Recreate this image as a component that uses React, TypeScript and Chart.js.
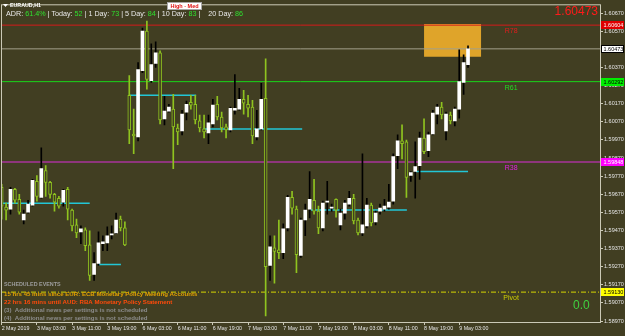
import React, { useEffect, useRef } from "react";
import { Chart, registerables } from "chart.js";

Chart.register(...registerables);

// ---------------- data ----------------
const symbolTitle = "EURAUD,H1";

const timeLabels = [
  "2 May 2019", "3 May 03:00", "3 May 11:00", "3 May 19:00", "6 May 03:00", "6 May 11:00",
  "6 May 19:00", "7 May 03:00", "7 May 11:00", "7 May 19:00", "8 May 03:00", "8 May 11:00",
  "8 May 19:00", "9 May 03:00",
];
const timeTickIndex = [0, 8, 16, 24, 32, 40, 48, 56, 64, 72, 80, 88, 96, 104];

const priceTicks = [
  1.5897, 1.5907, 1.5917, 1.5927, 1.5937, 1.5947, 1.5957, 1.5967, 1.5977, 1.5987,
  1.5997, 1.6007, 1.6017, 1.6027, 1.6037, 1.6047, 1.6057, 1.6067,
];

const opens = [
  1.59708, 1.59599, 1.59588, 1.59697, 1.59642, 1.59528, 1.59572, 1.5961, 1.59741, 1.59653,
  1.59801, 1.59736, 1.5967, 1.59648, 1.59627, 1.59697, 1.59583, 1.59501, 1.59463, 1.59474,
  1.59391, 1.59227, 1.59288, 1.59397, 1.59402, 1.59446, 1.59457, 1.59533, 1.59485, 1.60217,
  1.60003, 1.59987, 1.60353, 1.60571, 1.60298, 1.60392, 1.60451, 1.60086, 1.60129, 1.6014,
  1.60036, 1.6002, 1.60124, 1.60178, 1.60167, 1.60075, 1.60031, 1.60009, 1.60058, 1.60167,
  1.60097, 1.60042, 1.60025, 1.60134, 1.6014, 1.60195, 1.60167, 1.60151, 1.59987, 1.60031,
  1.602, 1.59277, 1.59375, 1.59364, 1.59348, 1.59485, 1.59653, 1.59588, 1.59332, 1.59528,
  1.59588, 1.59637, 1.59577, 1.59485, 1.59627, 1.59594, 1.59642, 1.59501, 1.59566, 1.59616,
  1.59648, 1.59528, 1.59457, 1.59496, 1.5961, 1.59518, 1.59577, 1.59588, 1.59599, 1.59632,
  1.59883, 1.59965, 1.5996, 1.59774, 1.59796, 1.59828, 1.59981, 1.59911, 1.60003, 1.60113,
  1.60151, 1.6002, 1.60108, 1.60075, 1.6014, 1.60288, 1.60386,
];
const highs = [
  1.59725, 1.59621, 1.59708, 1.59703, 1.5967, 1.59583, 1.59637, 1.59752, 1.59774, 1.59927,
  1.59828, 1.59741, 1.59675, 1.59659, 1.59697, 1.59708, 1.59588, 1.59533, 1.59496, 1.59485,
  1.59468, 1.59348, 1.59463, 1.59441, 1.5949, 1.59496, 1.59566, 1.5955, 1.59518, 1.60326,
  1.6014, 1.60397, 1.60588, 1.60626, 1.60501, 1.60512, 1.60462, 1.60211, 1.60167, 1.60222,
  1.60058, 1.60134, 1.60184, 1.60217, 1.60217, 1.60108, 1.60108, 1.60108, 1.60195, 1.60211,
  1.60124, 1.60058, 1.60151, 1.60331, 1.60255, 1.60244, 1.60217, 1.60189, 1.60134, 1.60283,
  1.60418, 1.59441, 1.59441, 1.59528, 1.59507, 1.59664, 1.59686, 1.59605, 1.59539, 1.59616,
  1.59796, 1.59752, 1.59605, 1.59632, 1.59741, 1.59616, 1.59645, 1.59588, 1.59637, 1.59686,
  1.5967, 1.59539, 1.59894, 1.59648, 1.59621, 1.59577, 1.59616, 1.59642, 1.59725, 1.59894,
  1.59998, 1.60053, 1.5997, 1.59796, 1.5996, 1.60014, 1.60086, 1.60014, 1.60134, 1.60167,
  1.60178, 1.60124, 1.60124, 1.60151, 1.60468, 1.6044, 1.6049,
];
const lows = [
  1.59533, 1.59528, 1.59561, 1.59621, 1.59561, 1.59507, 1.59566, 1.59605, 1.59632, 1.59648,
  1.59659, 1.59648, 1.59577, 1.59594, 1.59605, 1.59528, 1.59468, 1.5943, 1.59397, 1.59359,
  1.59195, 1.59195, 1.59277, 1.59359, 1.59359, 1.59424, 1.59452, 1.59468, 1.59386, 1.59949,
  1.59894, 1.59965, 1.60342, 1.6025, 1.60288, 1.6037, 1.60058, 1.60053, 1.60124, 1.59812,
  1.59944, 1.59998, 1.6008, 1.6014, 1.60058, 1.60014, 1.59981, 1.59949, 1.60042, 1.6008,
  1.60014, 1.59981, 1.60014, 1.60113, 1.60134, 1.60113, 1.60097, 1.59949, 1.5997, 1.60025,
  1.58998, 1.59195, 1.59179, 1.59315, 1.59315, 1.59468, 1.59561, 1.59238, 1.59321, 1.59441,
  1.59539, 1.59561, 1.59452, 1.59468, 1.59561, 1.59577, 1.59544, 1.59474, 1.59533, 1.59605,
  1.59507, 1.59446, 1.59441, 1.59485, 1.59496, 1.59501, 1.59561, 1.59577, 1.59588, 1.59616,
  1.59812, 1.59866, 1.59653, 1.59741, 1.59648, 1.59752, 1.59894, 1.59878, 1.59998, 1.60058,
  1.60086, 1.5997, 1.60058, 1.60047, 1.60091, 1.60222, 1.6037,
];
const closes = [
  1.59605, 1.59583, 1.59697, 1.59637, 1.59572, 1.59561, 1.59616, 1.59747, 1.59659, 1.59812,
  1.59736, 1.5967, 1.59627, 1.59605, 1.59692, 1.59588, 1.59496, 1.59457, 1.59479, 1.59386,
  1.59222, 1.59288, 1.59402, 1.59408, 1.59441, 1.59452, 1.59528, 1.59485, 1.59391, 1.60025,
  1.59992, 1.60359, 1.60571, 1.60304, 1.60386, 1.60451, 1.6008, 1.60129, 1.60151, 1.60042,
  1.60014, 1.60113, 1.60167, 1.60162, 1.6008, 1.60036, 1.60014, 1.60064, 1.60162, 1.60097,
  1.60036, 1.60025, 1.60145, 1.60145, 1.60195, 1.60173, 1.60145, 1.59992, 1.60031, 1.60195,
  1.59271, 1.5938, 1.59354, 1.59348, 1.59479, 1.59653, 1.59594, 1.59337, 1.59528, 1.59583,
  1.59642, 1.59577, 1.59485, 1.59621, 1.59632, 1.59599, 1.59583, 1.59566, 1.59621, 1.59648,
  1.59523, 1.59457, 1.59501, 1.5961, 1.59512, 1.59566, 1.59594, 1.59605, 1.59627, 1.59878,
  1.59965, 1.59949, 1.59763, 1.5979, 1.59823, 1.59981, 1.59905, 1.59998, 1.60118, 1.60151,
  1.60108, 1.60113, 1.60075, 1.6014, 1.60293, 1.60397, 1.60473,
];

const currentPrice = 1.60473;
const levelNames = ["R78", "R61", "R38", "Pivot"];
const levelValues = [1.60604, 1.60292, 1.59848, 1.5913];

const rangeStart = [0.3, 22.1, 28.9, 45.8, 70.3, 94.2];
const rangeEnd = [20, 27.1, 44.2, 68.3, 92.1, 106];
const rangePrice = [1.59621, 1.59282, 1.60217, 1.60031, 1.59583, 1.59796];

const zoneStart = 96;
const zoneEnd = 109;
const zoneHigh = 1.6061;
const zoneLow = 1.6043;

const adrPercent = "61.4%";
const adrLabels = ["Today", "1 Day", "5 Day", "10 Day", "20 Day"];
const adrValues = [52, 73, 84, 83, 86];
const impactLabel = "High - Med";
const spreadText = "0.0";

const eventsHeader = "SCHEDULED EVENTS";
const eventLines = [
  "15 hrs 45 mins since EUR: ECB Monetary Policy Meeting Accounts",
  "22 hrs 16 mins until AUD: RBA Monetary Policy Statement",
  "(3)  Additional news per settings is not scheduled",
  "(4)  Additional news per settings is not scheduled",
];

// ---------------- styles ----------------
const BG = "#413e22";
const BEAR = "#8fc31f";
const FRAME = "#cbc9b6";
const AXIS_TEXT = "#e4e4e4";
const FONT = '"Liberation Sans", Arial, sans-serif';

export default function App() {
  const canvasRef = useRef<HTMLCanvasElement | null>(null);

  useEffect(() => {
    document.body.style.margin = "0";
    document.body.style.background = BG;
    const canvas = canvasRef.current;
    if (!canvas) return;

    const xMin = -0.16;
    const xMax = 136;
    const yMin = 1.58965;
    const yMax = 1.60719;

    const idx = opens.map((_, i) => i);
    const bull = idx.filter((i) => closes[i] >= opens[i]);
    const bear = idx.filter((i) => closes[i] < opens[i]);

    const levelLineColors = ["#d41a1a", "#19d419", "#a8329a", "#d6d600"];
    const levelTextColors = ["#e01c1c", "#22dd22", "#e020e0", "#cccc00"];
    const levelBoxFill = ["#e00000", "#00ee00", "#ff00ff", "#ffff00"];
    const levelBoxText = ["#ffffff", "#000000", "#ffffff", "#000000"];

    const hline = (v: number, color: string, width: number, dash: number[], order: number) => ({
      type: "line" as const,
      data: [
        { x: xMin, y: v },
        { x: xMax, y: v },
      ],
      borderColor: color,
      borderWidth: width,
      borderDash: dash,
      pointRadius: 0,
      fill: false,
      order,
    });

    const datasets: any[] = [
      {
        type: "bar",
        label: "bull bodies",
        data: bull.map((i) => ({ x: i, y: [opens[i], closes[i]] })),
        backgroundColor: "#ffffff",
        borderColor: "#ffffff",
        borderWidth: 0,
        barThickness: 3,
        grouped: false,
        borderSkipped: false,
        order: 1,
      },
      {
        type: "bar",
        label: "bear bodies",
        data: bear.map((i) => ({ x: i, y: [opens[i], closes[i]] })),
        backgroundColor: BG,
        borderColor: BEAR,
        borderWidth: 1,
        barThickness: 3,
        grouped: false,
        borderSkipped: false,
        order: 1,
      },
      {
        type: "bar",
        label: "bull wicks",
        data: bull.map((i) => ({ x: i, y: [lows[i], highs[i]] })),
        backgroundColor: "#000000",
        borderWidth: 0,
        barThickness: 1,
        grouped: false,
        order: 3,
      },
      {
        type: "bar",
        label: "bear wicks",
        data: bear.map((i) => ({ x: i, y: [lows[i], highs[i]] })),
        backgroundColor: BEAR,
        borderWidth: 0,
        barThickness: 1,
        grouped: false,
        order: 3,
      },
      ...rangePrice.map((p, k) => ({
        type: "line",
        data: [
          { x: rangeStart[k], y: p },
          { x: rangeEnd[k], y: p },
        ],
        borderColor: "#22c6d6",
        borderWidth: 1.5,
        pointRadius: 0,
        fill: false,
        order: 8,
      })),
      hline(currentPrice, "#a29f8a", 1, [], 9),
      ...levelValues.map((v, k) =>
        hline(v, levelLineColors[k], k === 2 ? 1.5 : 1, k === 3 ? [5, 2, 1, 2] : [], 10)
      ),
      {
        type: "line",
        data: [
          { x: zoneStart, y: zoneHigh },
          { x: zoneEnd, y: zoneHigh },
        ],
        borderWidth: 0,
        borderColor: "rgba(0,0,0,0)",
        backgroundColor: "#dfa42a",
        pointRadius: 0,
        fill: { value: zoneLow },
        order: 20,
      },
    ];

    const overlay = {
      id: "mt4overlay",
      afterDraw(chart: any) {
        const { ctx, chartArea: ca, scales } = chart;
        const ys = scales.y;
        const xs = scales.x;
        ctx.save();

        // frame
        ctx.strokeStyle = FRAME;
        ctx.lineWidth = 1;
        ctx.strokeRect(ca.left + 0.5, ca.top + 0.5, ca.right - ca.left, ca.bottom - ca.top);

        // level names
        ctx.font = `7px ${FONT}`;
        ctx.textAlign = "center";
        ctx.textBaseline = "top";
        levelNames.forEach((name, k) => {
          ctx.fillStyle = levelTextColors[k];
          ctx.fillText(name, xs.getPixelForValue(115.8), ys.getPixelForValue(levelValues[k]) + 2.5);
        });

        // right-axis price boxes
        ctx.font = `5.5px ${FONT}`;
        ctx.textAlign = "left";
        ctx.textBaseline = "middle";
        const boxes = levelValues.map((v, k) => ({ v, fill: levelBoxFill[k], text: levelBoxText[k], border: false }));
        boxes.push({ v: currentPrice, fill: "#ffffff", text: "#000000", border: true });
        boxes.forEach((b) => {
          const py = Math.round(ys.getPixelForValue(b.v));
          ctx.fillStyle = b.fill;
          ctx.fillRect(ca.right + 1, py - 4, 23, 8);
          if (b.border) {
            ctx.strokeStyle = "#000000";
            ctx.strokeRect(ca.right + 1.5, py - 3.5, 22, 7);
          }
          ctx.fillStyle = b.text;
          ctx.fillText(b.v.toFixed(5), ca.right + 3.5, py + 0.5);
        });

        // big current price
        ctx.font = `12px ${FONT}`;
        ctx.textAlign = "right";
        ctx.textBaseline = "alphabetic";
        ctx.fillStyle = "#ff1a1a";
        ctx.fillText(currentPrice.toFixed(5), ca.right - 2, 15);

        // spread
        ctx.textAlign = "left";
        ctx.fillStyle = "#3fd03f";
        ctx.fillText(spreadText, 573, 309);

        // title
        ctx.fillStyle = "#ffffff";
        ctx.beginPath();
        ctx.moveTo(3, 4);
        ctx.lineTo(8, 4);
        ctx.lineTo(5.5, 7);
        ctx.closePath();
        ctx.fill();
        ctx.font = `bold 5.3px ${FONT}`;
        ctx.textBaseline = "middle";
        ctx.fillText(symbolTitle, 10, 5.5);

        // impact box
        ctx.fillStyle = "#ffffff";
        ctx.fillRect(167, 2, 35, 8);
        ctx.strokeStyle = "#a8a8a8";
        ctx.strokeRect(167.5, 2.5, 34, 7);
        ctx.fillStyle = "#e01010";
        ctx.font = `bold 5.5px ${FONT}`;
        ctx.textAlign = "center";
        ctx.fillText(impactLabel, 184.5, 6.3);

        // ADR line
        ctx.textAlign = "left";
        ctx.font = `7.2px ${FONT}`;
        const white = "#e8e8e8";
        const green = "#2ee02e";
        const parts: [string, string][] = [["ADR: ", white], [adrPercent, green]];
        adrLabels.forEach((l, k) => {
          parts.push([k === 4 ? " |    " + l + ": " : " | " + l + ": ", white]);
          parts.push([String(adrValues[k]), green]);
        });
        let tx = 6;
        parts.forEach(([t, c]) => {
          ctx.fillStyle = c;
          ctx.fillText(t, tx, 14.5);
          tx += ctx.measureText(t).width;
        });

        // scheduled events
        ctx.font = `bold 5.4px ${FONT}`;
        ctx.fillStyle = "#9c9c9c";
        ctx.fillText(eventsHeader, 4, 285);
        const evColors = ["#e3a000", "#ff4a0a", "#8c8c8c", "#8c8c8c"];
        ctx.font = `bold 6.1px ${FONT}`;
        eventLines.forEach((t, k) => {
          ctx.fillStyle = evColors[k];
          ctx.fillText(t, 4, 294 + k * 8);
        });

        ctx.restore();
      },
    };

    const chart = new Chart(canvas, {
      type: "bar",
      data: { datasets },
      options: {
        animation: false,
        responsive: false,
        devicePixelRatio: 1,
        layout: { padding: { left: 1, top: 1, right: 0, bottom: 0 } },
        plugins: { legend: { display: false }, tooltip: { enabled: false } },
        scales: {
          x: {
            type: "linear",
            min: xMin,
            max: xMax,
            offset: false,
            border: { display: false },
            grid: {
              offset: false,
              drawOnChartArea: false,
              drawTicks: true,
              tickLength: 3,
              tickColor: FRAME,
            },
            afterBuildTicks: (s: any) => {
              s.ticks = timeTickIndex.map((v) => ({ value: v }));
            },
            afterFit: (s: any) => {
              s.height = 14;
            },
            ticks: {
              autoSkip: false,
              maxRotation: 0,
              minRotation: 0,
              align: "start",
              padding: 0,
              color: AXIS_TEXT,
              font: { family: FONT, size: 5.3 },
              callback: (v: any) => {
                const k = timeTickIndex.indexOf(Number(v));
                return k >= 0 ? timeLabels[k] : "";
              },
            },
          },
          y: {
            type: "linear",
            position: "right",
            min: yMin,
            max: yMax,
            beginAtZero: false,
            border: { display: false },
            grid: {
              drawOnChartArea: false,
              drawTicks: true,
              tickLength: 3,
              tickColor: FRAME,
            },
            afterBuildTicks: (s: any) => {
              s.ticks = priceTicks.map((v) => ({ value: v }));
            },
            afterFit: (s: any) => {
              s.width = 25;
            },
            ticks: {
              padding: 1,
              color: AXIS_TEXT,
              font: { family: FONT, size: 5.5 },
              callback: (v: any) => Number(v).toFixed(5),
            },
          },
        },
      } as any,
      plugins: [overlay],
    } as any);

    return () => {
      chart.destroy();
    };
  }, []);

  return (
    <div style={{ width: 625, height: 336, background: BG }}>
      <canvas ref={canvasRef} width={625} height={336} style={{ display: "block", background: BG }} />
    </div>
  );
}
